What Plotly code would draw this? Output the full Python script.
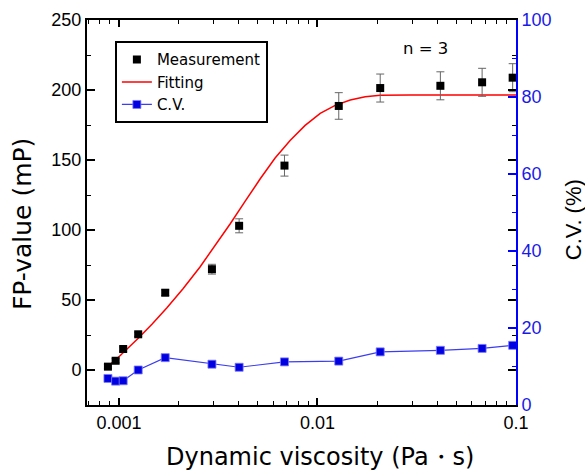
import plotly.graph_objects as go

# ---- data ----
viscosity = [0.000880, 0.000962, 0.00105, 0.00125, 0.00171, 0.00294, 0.00403,
             0.00682, 0.0128, 0.0207, 0.0416, 0.0675, 0.0962]
fp_value = [2.4, 6.6, 15.0, 25.5, 55.2, 72.0, 103.0, 146.0, 188.6, 201.4, 203.0, 205.5, 208.8]
fp_err = [1.5, 1.5, 1.5, 1.5, 2.0, 3.5, 5.0, 7.5, 9.5, 10.0, 10.0, 10.0, 10.0]
cv_value = [6.9, 6.2, 6.3, 9.1, 12.3, 10.6, 9.8, 11.2, 11.4, 13.8, 14.2, 14.7, 15.5]

fit_x = [0.000880, 0.001012, 0.001247, 0.001466, 0.001745, 0.002102, 0.002560,
         0.003048, 0.003629, 0.004317, 0.005138, 0.006117, 0.007280, 0.008666,
         0.01032, 0.01228, 0.01462, 0.01740, 0.02070, 0.02932, 0.1]
fit_y = [2.5, 10.2, 22.5, 32.7, 44.5, 58.1, 73.6, 88.5, 104.3, 120.4, 136.4,
         151.4, 164.0, 174.7, 183.3, 189.0, 192.9, 195.2, 196.3, 196.5, 196.5]

x_major = [0.001, 0.01, 0.1]
x_major_text = ["0.001", "0.01", "0.1"]
y_left_ticks = [0, 50, 100, 150, 200, 250]
y_right_ticks = [0, 20, 40, 60, 80, 100]

x_title = "Dynamic viscosity (Pa・s)"
y_title = "FP-value (mP)"
y2_title = "C.V. (%)"
note = "n = 3"

FONT = "Liberation Sans, Arial, sans-serif"
WIDE = "DejaVu Sans, Liberation Sans, sans-serif"
BLUE = "#0000ff"
BLUE_TXT = "#1a1ae6"

minor_x = [m * d for d in (0.0001, 0.001, 0.01) for m in range(2, 10)]

fig = go.Figure()

fig.add_trace(go.Scatter(
    x=fit_x, y=fit_y, mode="lines", name="Fitting",
    line=dict(color="#ff0000", width=1.5),
    legendrank=2,
))

fig.add_trace(go.Scatter(
    x=viscosity, y=fp_value, mode="markers", name="Measurement",
    marker=dict(symbol="square", size=8, color="black"),
    error_y=dict(type="data", array=fp_err, visible=True, color="#666666",
                 thickness=1, width=4),
    legendrank=1,
))

fig.add_trace(go.Scatter(
    x=viscosity, y=cv_value, mode="lines+markers", name="C.V.", yaxis="y2",
    line=dict(color="#3c3cf0", width=1.2),
    marker=dict(symbol="square", size=8, color="#0000e0",
                line=dict(color="#7a7aff", width=0.8)),
    legendrank=3,
))

fig.update_layout(
    width=585, height=470,
    margin=dict(l=87, r=69, t=20, b=65),
    paper_bgcolor="white", plot_bgcolor="white",
    font=dict(family=FONT, color="black", size=18),
    showlegend=True,
    legend=dict(x=0.065, y=0.945, xanchor="left", yanchor="top",
                bgcolor="white", bordercolor="black", borderwidth=2,
                font=dict(size=15, family=WIDE), itemwidth=30,
                tracegroupgap=0),
    xaxis=dict(
        type="log", range=[-3.161, -1.0], automargin=False,
        tickmode="array", tickvals=x_major, ticktext=x_major_text,
        ticks="inside", ticklen=7, tickwidth=1.5, tickcolor="black",
        showline=True, linewidth=2, linecolor="black", mirror="ticks",
        showgrid=False, zeroline=False,
        minor=dict(ticks="inside", ticklen=4, tickwidth=1, tickcolor="black",
                   tickmode="array", tickvals=minor_x, showgrid=False),
        tickfont=dict(size=18),
    ),
    yaxis=dict(
        range=[-25, 250], tickmode="array", tickvals=y_left_ticks, automargin=False,
        ticks="inside", ticklen=8, tickwidth=1.5, tickcolor="black",
        showline=True, linewidth=2, linecolor="black", mirror="ticks",
        showgrid=False, zeroline=False,
        minor=dict(ticks="inside", ticklen=4, tickwidth=1, tickcolor="black",
                   dtick=25, showgrid=False),
        tickfont=dict(size=18),
    ),
    yaxis2=dict(
        overlaying="y", side="right", anchor="x", automargin=False,
        range=[0, 100], tickmode="array", tickvals=y_right_ticks,
        ticks="inside", ticklen=8, tickwidth=1.5, tickcolor=BLUE,
        showline=True, linewidth=2, linecolor=BLUE,
        showgrid=False, zeroline=False,
        minor=dict(ticks="inside", ticklen=4, tickwidth=1, tickcolor=BLUE,
                   dtick=10, showgrid=False),
        tickfont=dict(size=18, color=BLUE_TXT),
    ),
    annotations=[
        dict(text=note, x=0.79, y=0.927, xref="paper", yref="paper",
             xanchor="center", yanchor="middle", showarrow=False,
             font=dict(size=16.5, family=WIDE)),
        dict(text=x_title, x=0.543, y=-0.135, xref="paper", yref="paper",
             xanchor="center", yanchor="middle", showarrow=False,
             font=dict(size=24, family=WIDE)),
        dict(text=y_title, x=-0.1515, y=0.47, xref="paper", yref="paper",
             xanchor="center", yanchor="middle", showarrow=False, textangle=-90,
             font=dict(size=25, family=WIDE)),
        dict(text=y2_title, x=1.133, y=0.48, xref="paper", yref="paper",
             xanchor="center", yanchor="middle", showarrow=False, textangle=-90,
             font=dict(size=22, family=FONT)),
    ],
)

fig.write_html("out.html", config={"displayModeBar": False},
               post_script="document.body.style.margin='0';")
